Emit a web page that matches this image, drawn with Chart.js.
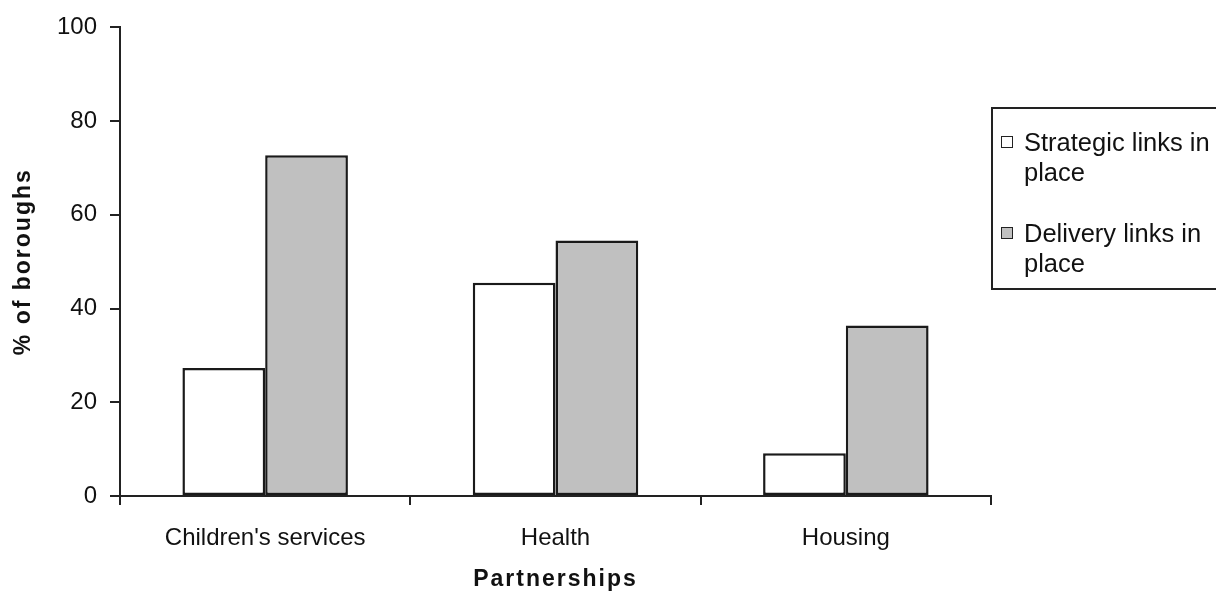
<!DOCTYPE html>
<html>
<head>
<meta charset="utf-8">
<title>Partnerships</title>
<script src="https://cdn.jsdelivr.net/npm/chart.js@4"></script>
<style>
  html, body { margin: 0; padding: 0; background: #fff; overflow: hidden; }
  #wrap { position: relative; width: 1216px; height: 597px; }
  #legend {
    position: absolute; left: 991px; top: 107px; width: 240px; height: 183px;
    border: 2px solid #222; box-sizing: border-box;
    font-family: "Liberation Sans", Arial, sans-serif; font-size: 25.5px; line-height: 30px; color: #111;
  }
  .item { position: absolute; left: 31px; width: 205px; }
  .box { position: absolute; left: -23px; top: 9px; width: 10px; height: 10px; border: 1.5px solid #222; }
</style>
</head>
<body>
<div id="wrap">
  <canvas id="chart"></canvas>
  <div id="legend"></div>
</div>
<script>
// ====== DATA ======
const categories = ["Children's services", "Health", "Housing"];
const seriesNames = ["Strategic links in place", "Delivery links in place"];
const strategic = [27.3, 45.5, 9.1];
const delivery = [72.7, 54.5, 36.4];
const yTicks = [0, 20, 40, 60, 80, 100];

const fills = ["#ffffff", "#c0c0c0"];
const font = "'Liberation Sans', Arial, sans-serif";

// ====== LEGEND (HTML) ======
const legend = document.getElementById("legend");
seriesNames.forEach((name, i) => {
  const words = name.split(" ");
  const item = document.createElement("div");
  item.className = "item";
  item.style.top = (18 + i * 91) + "px";
  item.innerHTML = '<span class="box" style="background:' + fills[i] + '"></span>' +
    words.slice(0, 3).join(" ") + "<br>" + words.slice(3).join(" ");
  legend.appendChild(item);
});

// axis titles in the original are a bit spaced out
const spacedTitles = {
  id: "spacedTitles",
  afterUpdate(chart) {
    Object.values(chart.scales).forEach(s => {
      if (s._spaced) return;
      const orig = s.drawTitle.bind(s);
      s.drawTitle = function () {
        s.ctx.save();
        s.ctx.letterSpacing = "2px";
        orig();
        s.ctx.restore();
      };
      s._spaced = true;
    });
  }
};

// ====== CHART ======
const ctx = document.getElementById("chart").getContext("2d");

new Chart(ctx, {
  type: "bar",
  data: {
    labels: categories,
    datasets: [strategic, delivery].map((d, i) => ({
      label: seriesNames[i],
      data: d,
      backgroundColor: fills[i],
      borderColor: "#1a1a1a",
      borderWidth: 2.5,
      borderSkipped: false,
      categoryPercentage: 0.57,
      barPercentage: 1.0
    }))
  },
  options: {
    responsive: true,
    maintainAspectRatio: false,
    animation: false,
    layout: { padding: { top: 25, right: 225, left: 0, bottom: 0 } },
    plugins: {
      legend: { display: false },
      tooltip: { enabled: false }
    },
    scales: {
      x: {
        afterFit: s => { s.height = 101; },
        grid: { drawOnChartArea: false, drawTicks: true, tickLength: 9, tickColor: "#222", lineWidth: 2 },
        border: { display: true, color: "#222", width: 2 },
        ticks: { color: "#111", padding: 19, font: { family: font, size: 24 } },
        title: {
          display: true, text: "Partnerships", color: "#111",
          font: { family: font, size: 23, weight: "bold" },
          padding: { top: 0, bottom: 4 }
        }
      },
      y: {
        min: 0,
        max: 100,
        afterFit: s => { s.width = 120; },
        afterBuildTicks: s => { s.ticks = yTicks.map(v => ({ value: v })); },
        grid: { drawOnChartArea: false, drawTicks: true, tickLength: 10, tickColor: "#222", lineWidth: 2 },
        border: { display: true, color: "#222", width: 2 },
        ticks: { color: "#111", padding: 13, font: { family: font, size: 24 } },
        title: {
          display: true, text: "% of boroughs", color: "#111",
          font: { family: font, size: 23, weight: "bold" },
          padding: { top: 10, bottom: 0 }
        }
      }
    }
  },
  plugins: [spacedTitles]
});
</script>
</body>
</html>
